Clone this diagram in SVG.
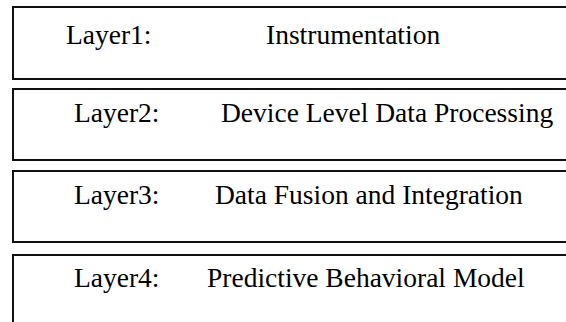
<svg xmlns="http://www.w3.org/2000/svg" width="566" height="322" viewBox="0 0 566 322">
<style>
.box{fill:#fff;stroke:#111;stroke-width:2}
.t{font-family:"Liberation Serif","Times New Roman",serif;font-size:27.5px;fill:#000}
</style>
<rect x="0" y="0" width="566" height="322" fill="#fff"/>
<g id="layer1">
<rect class="box" x="13" y="7" width="570" height="72"/>
<text class="t" x="66" y="44">Layer1:</text>
<text class="t" x="266" y="44">Instrumentation</text>
</g>
<g id="layer2">
<rect class="box" x="13" y="89" width="570" height="71"/>
<text class="t" x="74" y="122">Layer2:</text>
<text class="t" x="221" y="122">Device Level Data Processing</text>
</g>
<g id="layer3">
<rect class="box" x="13" y="171" width="570" height="71"/>
<text class="t" x="74" y="204">Layer3:</text>
<text class="t" x="215" y="204">Data Fusion and Integration</text>
</g>
<g id="layer4">
<rect class="box" x="13" y="255" width="570" height="80"/>
<text class="t" x="74" y="287">Layer4:</text>
<text class="t" x="207" y="287">Predictive Behavioral Model</text>
</g>
<g id="connectors"></g>
</svg>
